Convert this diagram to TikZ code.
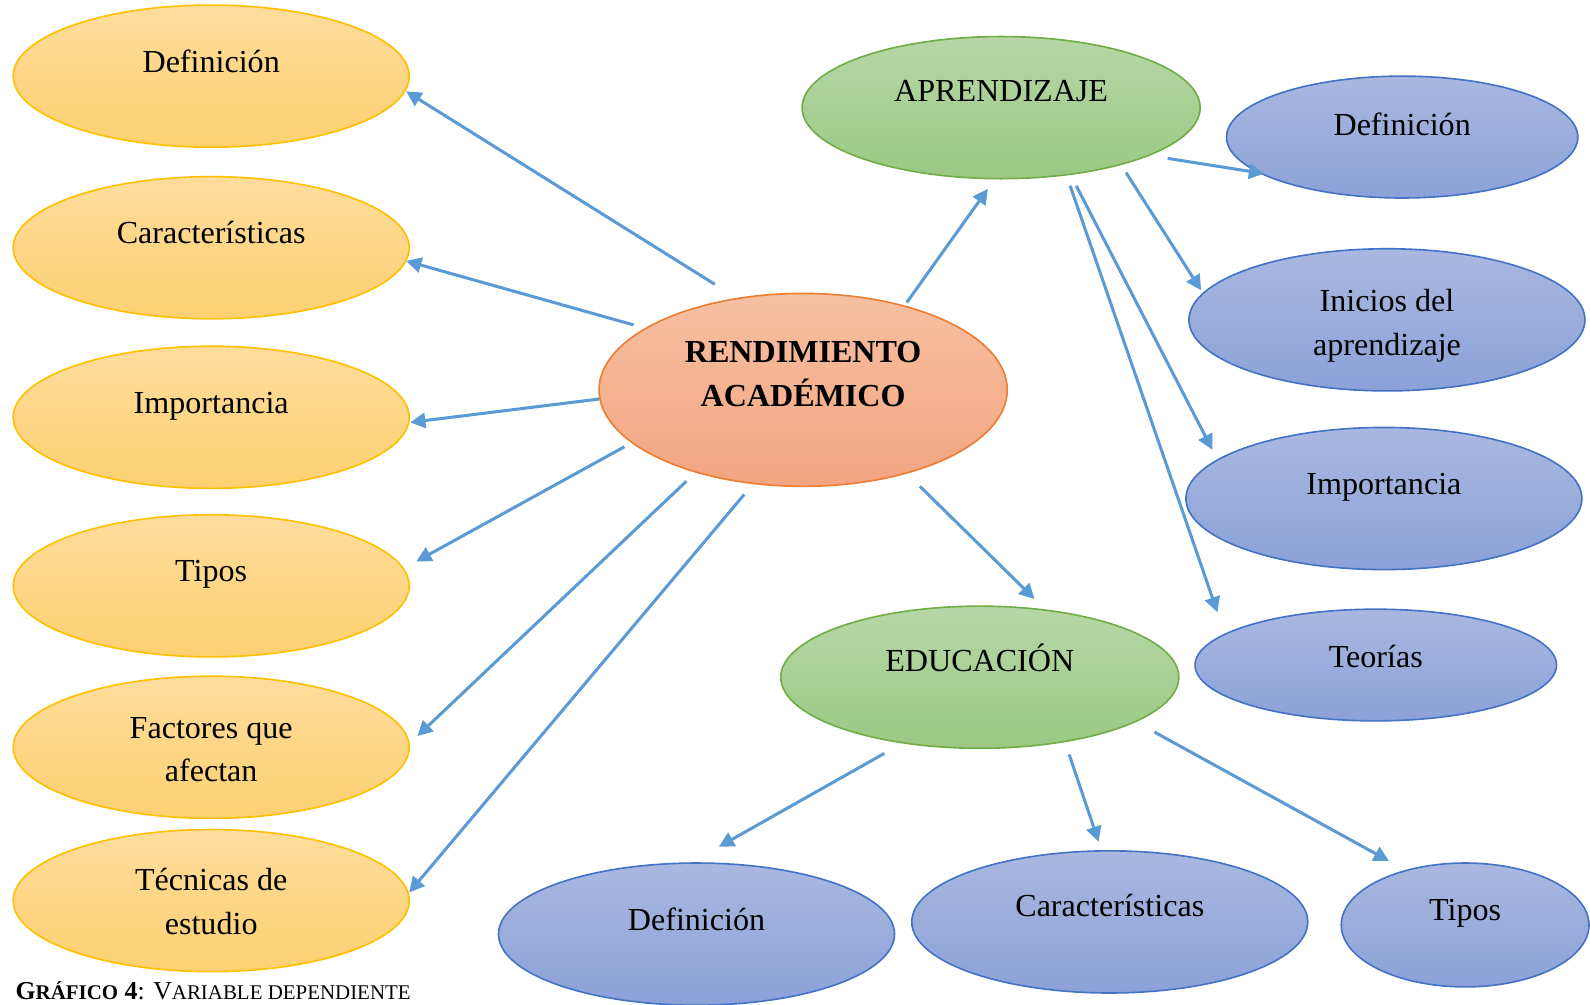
\documentclass[tikz,border=0pt]{standalone}
\usepackage{fontspec}
\setmainfont{Liberation Serif}
\usetikzlibrary{arrows.meta}
\definecolor{ylwTop}{HTML}{FDDC9C}
\definecolor{ylwBot}{HTML}{FDD071}
\definecolor{ylwLine}{HTML}{FFC000}
\definecolor{orgTop}{HTML}{F6C0A2}
\definecolor{orgBot}{HTML}{F4A480}
\definecolor{orgLine}{HTML}{ED7D31}
\definecolor{grnTop}{HTML}{B6D7A6}
\definecolor{grnBot}{HTML}{9BC884}
\definecolor{grnLine}{HTML}{70AD47}
\definecolor{bluTop}{HTML}{AAB8E0}
\definecolor{bluBot}{HTML}{8BA1D8}
\definecolor{bluLine}{HTML}{4472C4}
\definecolor{arrBlue}{HTML}{5B9BD5}
\tikzset{
  ell/.style 2 args={ellipse, inner sep=0pt, line width=0.8pt, minimum width=#1, minimum height=#2},
  ylw/.style={top color=ylwTop, bottom color=ylwBot, draw=ylwLine},
  org/.style={top color=orgTop, bottom color=orgBot, draw=orgLine},
  grn/.style={top color=grnTop, bottom color=grnBot, draw=grnLine},
  blu/.style={top color=bluTop, bottom color=bluBot, draw=bluLine},
  lbl/.style={anchor=base, align=center, inner sep=0pt, font=\fontsize{15.8}{21.5}\selectfont},
  arr/.style={draw=arrBlue, line width=1.5pt, -{Triangle[length=7.5pt,width=7.5pt]}},
}
\usetikzlibrary{shapes.geometric}
\begin{document}
\begin{tikzpicture}[x=0.5pt,y=-0.5pt]
\useasboundingbox (0,0) rectangle (1566,989);
% left column
\node[ell={195pt}{70pt}, ylw] (defL) at (208,75) {};
\node[ell={195pt}{70pt}, ylw] (carL) at (208,244) {};
\node[ell={195pt}{70pt}, ylw] (impL) at (208,411) {};
\node[ell={195pt}{70pt}, ylw] (tipL) at (208,577) {};
\node[ell={195pt}{70pt}, ylw] (facL) at (208,736) {};
\node[ell={195pt}{70pt}, ylw] (tecL) at (208,887) {};
\node[lbl] (defL-t) at (208,71) {Definición};
\node[lbl] (carL-t) at (208,240) {Características};
\node[lbl] (impL-t) at (208,407) {Importancia};
\node[lbl] (tipL-t) at (208,573) {Tipos};
\node[lbl] (facL-t) at (208,770) {Factores que\\afectan};
\node[lbl] (tecL-t) at (208,920) {Técnicas de\\estudio};
% centre
\node[ell={201pt}{95pt}, org] (ren) at (791,384) {};
\node[lbl, font=\fontsize{15.8}{21.5}\selectfont\bfseries] (ren-t) at (791,400) {RENDIMIENTO\\ACADÉMICO};
% green
\node[ell={196pt}{70pt}, grn] (apr) at (986,106) {};
\node[lbl] (apr-t) at (986,100) {APRENDIZAJE};
\node[ell={196pt}{70pt}, grn] (edu) at (965,667) {};
\node[lbl] (edu-t) at (965,661) {EDUCACIÓN};
% blue right
\node[ell={173pt}{60pt}, blu] (defA) at (1381,135) {};
\node[lbl] (defA-t) at (1381,133) {Definición};
\node[ell={195pt}{70pt}, blu] (iniA) at (1366,315) {};
\node[lbl] (iniA-t) at (1366,350) {Inicios del\\aprendizaje};
\node[ell={195pt}{70pt}, blu] (impA) at (1363,491) {};
\node[lbl] (impA-t) at (1363,487) {Importancia};
\node[ell={178pt}{55pt}, blu] (teoA) at (1355,655) {};
\node[lbl] (teoA-t) at (1355,657) {Teorías};
% blue bottom
\node[ell={195pt}{70pt}, blu] (defE) at (686,920) {};
\node[lbl] (defE-t) at (686,916) {Definición};
\node[ell={195pt}{70pt}, blu] (carE) at (1093,908) {};
\node[lbl] (carE-t) at (1093,903) {Características};
\node[ell={122pt}{61pt}, blu] (tipE) at (1443,911) {};
\node[lbl] (tipE-t) at (1443,907) {Tipos};
% connector ends
\coordinate (a1s) at (704,280);  \coordinate (a1e) at (400,90);
\coordinate (a2s) at (624,320);  \coordinate (a2e) at (400,257);
\coordinate (a3s) at (590,393);  \coordinate (a3e) at (404,416);
\coordinate (a4s) at (615,440);  \coordinate (a4e) at (410,553);
\coordinate (a5s) at (676,474);  \coordinate (a5e) at (411,725);
\coordinate (a6s) at (733,487);  \coordinate (a6e) at (403,879);
\coordinate (a7s) at (893,298);  \coordinate (a7e) at (973,186);
\coordinate (a8s) at (906,479);  \coordinate (a8e) at (1019,590);
\coordinate (a9s) at (1150,156); \coordinate (a9e) at (1245,171);
\coordinate (a10s) at (1109,170); \coordinate (a10e) at (1183,286);
\coordinate (a11s) at (1060,183); \coordinate (a11e) at (1194,443);
\coordinate (a12s) at (1054,183); \coordinate (a12e) at (1199,603);
\coordinate (a13s) at (871,742); \coordinate (a13e) at (708,834);
\coordinate (a14s) at (1053,743); \coordinate (a14e) at (1082,829);
\coordinate (a15s) at (1137,721); \coordinate (a15e) at (1368,848);
\foreach \i in {1,...,15} { \draw[arr] (a\i s) -- (a\i e); }
% caption
\node[anchor=base west, inner sep=0pt, font=\fontsize{12.7}{14}\selectfont] (cap) at (15,984)
  {\textbf{G{\fontsize{10.3}{12}\selectfont RÁFICO} 4}: V{\fontsize{10.3}{12}\selectfont ARIABLE DEPENDIENTE}};
\end{tikzpicture}
\end{document}
